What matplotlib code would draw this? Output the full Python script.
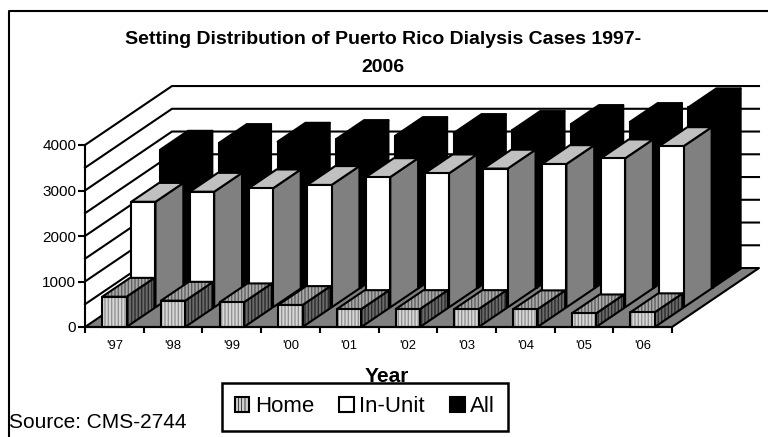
import matplotlib
matplotlib.use("Agg")
import matplotlib.pyplot as plt
from matplotlib.lines import Line2D
from matplotlib.patches import Patch, Polygon

plt.rcParams['font.family'] = ['Liberation Sans', 'DejaVu Sans']
plt.rcParams['hatch.linewidth'] = 1.0

# Dialysis cases per setting
years = ["'97", "'98", "'99", "'00", "'01", "'02", "'03", "'04", "'05", "'06"]
home = [665, 578, 543, 484, 395, 395, 395, 390, 300, 325]
in_unit = [2320, 2541, 2615, 2690, 2864, 2945, 3050, 3150, 3275, 3545]
all_cases = [3033, 3180, 3209, 3268, 3334, 3400, 3466, 3598, 3642, 3965]

W, H = 768, 437
LEFT, RIGHT, BOTTOM, TOP = 85, 672, 327, 145
EDGE = 1.5

# Oblique projection: one depth row shifts a point right and up in data units
ROW_DX = 0.494
ROW_DY = 432.0
ROWS = 3
BAR_W = 0.414
BAR_D = 0.96


def proj(x, v, depth):
    return x + depth * ROW_DX, v + depth * ROW_DY


fig = plt.figure(figsize=(W / 100, H / 100), dpi=100, facecolor='white')
ax = fig.add_axes([LEFT / W, 1 - BOTTOM / H, (RIGHT - LEFT) / W, (BOTTOM - TOP) / H])
ax.set_xlim(0, 10)
ax.set_ylim(0, 4000)
ax.patch.set_visible(False)
for side in ('top', 'right'):
    ax.spines[side].set_visible(False)
for side in ('left', 'bottom'):
    ax.spines[side].set_linewidth(EDGE)
    ax.spines[side].set_zorder(50)

ax.set_yticks(range(0, 4001, 1000))
ax.tick_params(axis='y', length=4.8, width=EDGE, labelsize=11, pad=1.5)
ax.set_xticks(range(0, 11))
ax.set_xticklabels([])
ax.set_xticks([i + 0.5 for i in range(10)], labels=years, minor=True)
ax.tick_params(axis='x', which='major', length=4.5, width=EDGE)
ax.tick_params(axis='x', which='minor', length=0, labelsize=9.4, pad=9.5)


def poly(points, face, z, hatch=None, stripe=None):
    """Fill a projected polygon, with optional stripes, then outline it in black."""
    if hatch:
        ax.add_patch(Polygon(points, closed=True, facecolor=face, edgecolor=stripe,
                             hatch=hatch, linewidth=0, clip_on=False, zorder=z))
        ax.add_patch(Polygon(points, closed=True, fill=False, edgecolor='black',
                             linewidth=EDGE, joinstyle='round', clip_on=False, zorder=z))
    else:
        ax.add_patch(Polygon(points, closed=True, facecolor=face, edgecolor='black',
                             linewidth=EDGE, joinstyle='round', clip_on=False, zorder=z))


# Side wall and back wall grid lines every 500 cases
for v in range(500, 4001, 500):
    xs, ys = zip(proj(0, v, 0), proj(0, v, ROWS), proj(10, v, ROWS))
    ax.plot(xs, ys, color='black', lw=EDGE, clip_on=False, zorder=1,
            solid_joinstyle='miter')

# Floor
poly([proj(0, 0, 0), proj(10, 0, 0), proj(10, 0, ROWS), proj(0, 0, ROWS)], '#808080', 2)

STYLES = {
    'home': dict(front=('#d8d8d8', '#929292'), side=('#6a6a6a', '#2c2c2c'), top=('#a8a8a8', '#606060')),
    'in_unit': dict(front=('white', None), side=('#808080', None), top=('#c0c0c0', None)),
    'all': dict(front=('black', None), side=('black', None), top=('black', None)),
}


def bar3d(i, value, row, style, z):
    x0 = i + (1 - BAR_W) / 2
    x1 = x0 + BAR_W
    d0, d1 = row, row + BAR_D
    hatch = '|||||' if style['front'][1] else None
    poly([proj(x1, 0, d0), proj(x1, 0, d1), proj(x1, value, d1), proj(x1, value, d0)],
         style['side'][0], z, hatch, style['side'][1])
    poly([proj(x0, value, d0), proj(x1, value, d0), proj(x1, value, d1), proj(x0, value, d1)],
         style['top'][0], z, hatch, style['top'][1])
    poly([proj(x0, 0, d0), proj(x1, 0, d0), proj(x1, value, d0), proj(x0, value, d0)],
         style['front'][0], z, hatch, style['front'][1])


# Painted back to front so nearer rows cover the ones behind them
for row, (series, key) in zip((2, 1, 0), ((all_cases, 'all'), (in_unit, 'in_unit'), (home, 'home'))):
    for i, value in enumerate(series):
        bar3d(i, value, row, STYLES[key], 10 + (2 - row) * 10)

# Title and annotations
fig.text(383 / W, 1 - 53.5 / H, "Setting Distribution of Puerto Rico Dialysis Cases 1997-\n2006",
         ha='center', va='center', fontsize=14, fontweight='bold', linespacing=1.92)
fig.text(387 / W, 1 - 377 / H, "Year", ha='center', va='center', fontsize=15,
         fontweight='bold', zorder=1)
fig.text(9 / W, 1 - 428 / H, "Source: CMS-2744", ha='left', va='baseline', fontsize=15)

plt.rcParams['hatch.linewidth'] = 0.5
handles = [
    Patch(facecolor='#d0d0d0', edgecolor='black', hatch='|||||', linewidth=EDGE),
    Patch(facecolor='white', edgecolor='black', linewidth=EDGE),
    Patch(facecolor='black', edgecolor='black', linewidth=EDGE),
]
leg = fig.legend(handles, ['Home', 'In-Unit', 'All'], ncol=3, loc='center',
                 bbox_to_anchor=(365 / W, 1 - 407 / H), fontsize=16, frameon=True,
                 fancybox=False, framealpha=1, edgecolor='black',
                 handlelength=0.64, handleheight=0.64, handletextpad=0.25,
                 columnspacing=1.15, borderpad=0.6, borderaxespad=0)
leg.get_frame().set_linewidth(EDGE + 0.3)
leg.set_zorder(5)

# Chart border, open toward the right and bottom edges
fig.add_artist(Line2D([8.5 / W, 8.5 / W, 1], [0, 1 - 10.5 / H, 1 - 10.5 / H],
                      color='black', lw=1.5, transform=fig.transFigure))

fig.savefig('out.png', dpi=100)
